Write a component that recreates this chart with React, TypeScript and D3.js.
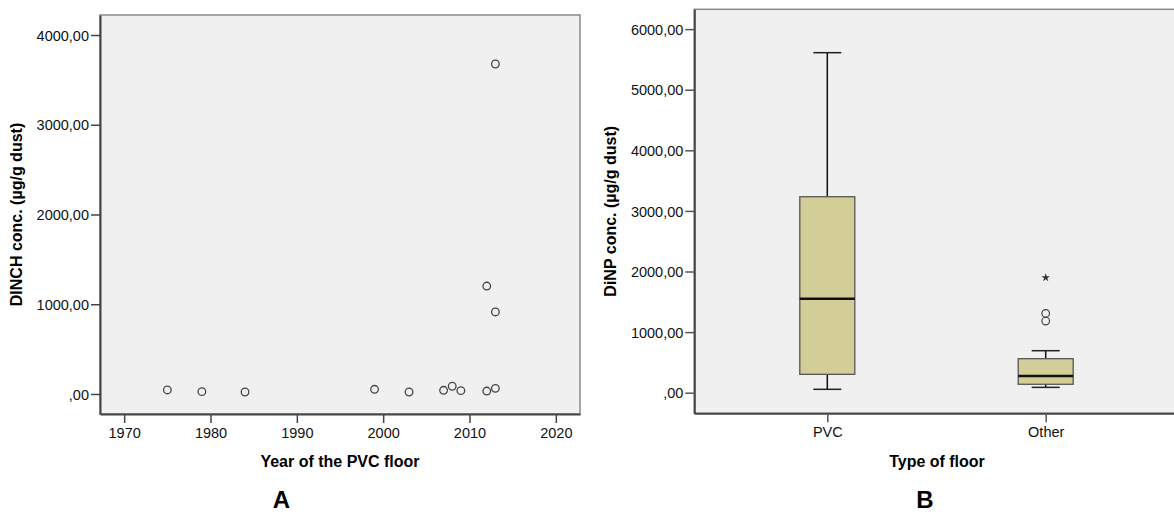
import React, { useEffect, useRef } from "react";
import * as d3 from "d3";

// Panel A data
const floorYears = [1975, 1979, 1984, 1999, 2003, 2007, 2008, 2009, 2012, 2013, 2012, 2013, 2013];
const dinchConc = [45, 26, 22, 52, 22, 41, 86, 37, 33, 63, 1203, 914, 3677];
const yearTicks = [1970, 1980, 1990, 2000, 2010, 2020];
const dinchTicks = [0, 1000, 2000, 3000, 4000];

// Panel B data
const floorTypes = ["PVC", "Other"];
const q1 = [303, 139];
const medians = [1551, 276];
const q3 = [3234, 561];
const whiskerLow = [56, 88];
const whiskerHigh = [5611, 693];
const outliersOther = [1182, 1309];
const extremesOther = [1898];
const dinpTicks = [0, 1000, 2000, 3000, 4000, 5000, 6000];

const FONT = "'Liberation Sans', Arial, sans-serif";
const fmt = (v: number) => {
  const s = d3.format(".2f")(v).replace(".", ",");
  return v === 0 ? s.replace(/^0/, "") : s;
};

export default function App() {
  const ref = useRef<SVGSVGElement>(null);

  useEffect(() => {
    const svg = d3.select(ref.current);
    svg.selectAll("*").remove();

    // ---------- Panel A ----------
    const aL = 100, aR = 580, aT = 15, aB = 414;
    const xA = d3.scaleLinear().domain([1967.2, 2022.8]).range([aL, aR]);
    const yA = d3.scaleLinear().domain([-223, 4223]).range([aB, aT]);

    const gA = svg.append("g");
    gA.append("rect").attr("x", aL).attr("y", aT).attr("width", aR - aL).attr("height", aB - aT)
      .attr("fill", "#f0f0f0").attr("stroke", "#8a8a8a").attr("stroke-width", 1.5);

    const axA = gA.append("g").attr("transform", `translate(${aL},0)`)
      .call(d3.axisLeft(yA).tickValues(dinchTicks).tickFormat((d: any) => fmt(d)).tickSize(9).tickSizeOuter(0));
    const axAx = gA.append("g").attr("transform", `translate(0,${aB})`)
      .call(d3.axisBottom(xA).tickValues(yearTicks).tickFormat(d3.format("d") as any).tickSize(9).tickSizeOuter(0));

    [axA, axAx].forEach((ax) => {
      ax.select(".domain").attr("stroke", "#444").attr("stroke-width", 2);
      ax.selectAll(".tick line").attr("stroke", "#444").attr("stroke-width", 1.5);
      ax.selectAll("text").attr("font-family", FONT).attr("font-size", 14.5).attr("fill", "#111");
    });
    axA.selectAll("text").attr("x", -11).attr("dy", "0.36em");
    axAx.selectAll("text").attr("y", 14);

    gA.append("g").selectAll("circle").data(floorYears).join("circle")
      .attr("cx", (d) => xA(d))
      .attr("cy", (_d, i) => yA(dinchConc[i]))
      .attr("r", 3.8).attr("fill", "none").attr("stroke", "#444").attr("stroke-width", 1.3);

    gA.append("text").attr("x", (aL + aR) / 2).attr("y", 467).attr("text-anchor", "middle")
      .attr("font-family", FONT).attr("font-weight", "bold").attr("font-size", 16).text("Year of the PVC floor");
    gA.append("text").attr("transform", `translate(22,${(aT + aB) / 2}) rotate(-90)`).attr("text-anchor", "middle")
      .attr("font-family", FONT).attr("font-weight", "bold").attr("font-size", 16).text("DINCH conc. (µg/g dust)");
    gA.append("text").attr("x", 281.5).attr("y", 508).attr("text-anchor", "middle")
      .attr("font-family", FONT).attr("font-weight", "bold").attr("font-size", 24).text("A");

    // ---------- Panel B ----------
    const bL = 694.3, bR = 1178.7, bT = 9.3, bB = 413.3;
    const xB = d3.scalePoint().domain(floorTypes).range([bL, bR]).padding(0.609);
    const yB = d3.scaleLinear().domain([-340, 6327]).range([bB, bT]);

    const gB = svg.append("g");
    gB.append("rect").attr("x", bL).attr("y", bT).attr("width", bR - bL).attr("height", bB - bT)
      .attr("fill", "#f0f0f0").attr("stroke", "#8a8a8a").attr("stroke-width", 1.5);

    const axB = gB.append("g").attr("transform", `translate(${bL},0)`)
      .call(d3.axisLeft(yB).tickValues(dinpTicks).tickFormat((d: any) => fmt(d)).tickSize(9).tickSizeOuter(0));
    const axBx = gB.append("g").attr("transform", `translate(0,${bB})`)
      .call(d3.axisBottom(xB).tickSize(9).tickSizeOuter(0));
    [axB, axBx].forEach((ax) => {
      ax.select(".domain").attr("stroke", "#444").attr("stroke-width", 2);
      ax.selectAll(".tick line").attr("stroke", "#555").attr("stroke-width", 1.5);
      ax.selectAll("text").attr("font-family", FONT).attr("font-size", 14.5).attr("fill", "#111");
    });
    axB.selectAll("text").attr("x", -11).attr("dy", "0.36em");
    axBx.selectAll("text").attr("y", 13);

    const boxW = 55, capW = 28;
    floorTypes.forEach((c, i) => {
      const cx = xB(c) as number;
      const g = gB.append("g");
      g.append("line").attr("x1", cx).attr("x2", cx).attr("y1", yB(q3[i])).attr("y2", yB(whiskerHigh[i]))
        .attr("stroke", "#111").attr("stroke-width", 1.5);
      g.append("line").attr("x1", cx).attr("x2", cx).attr("y1", yB(q1[i])).attr("y2", yB(whiskerLow[i]))
        .attr("stroke", "#111").attr("stroke-width", 1.5);
      [whiskerHigh[i], whiskerLow[i]].forEach((w) => {
        g.append("line").attr("x1", cx - capW / 2).attr("x2", cx + capW / 2).attr("y1", yB(w)).attr("y2", yB(w))
          .attr("stroke", "#222").attr("stroke-width", 1.5);
      });
      g.append("rect").attr("x", cx - boxW / 2).attr("width", boxW)
        .attr("y", yB(q3[i])).attr("height", yB(q1[i]) - yB(q3[i]))
        .attr("fill", "#d3ce97").attr("stroke", "#555").attr("stroke-width", 1.3);
      g.append("line").attr("x1", cx - boxW / 2).attr("x2", cx + boxW / 2).attr("y1", yB(medians[i])).attr("y2", yB(medians[i]))
        .attr("stroke", "#111").attr("stroke-width", 2.5);
    });

    const cxO = xB("Other") as number;
    gB.append("g").selectAll("circle").data(outliersOther).join("circle")
      .attr("cx", cxO).attr("cy", (d) => yB(d)).attr("r", 3.8)
      .attr("fill", "none").attr("stroke", "#444").attr("stroke-width", 1.2);
    gB.append("g").selectAll("path").data(extremesOther).join("path")
      .attr("transform", (d) => `translate(${cxO},${yB(d)})`)
      .attr("d", d3.symbol(d3.symbolStar, 22)() as string)
      .attr("fill", "#333");

    gB.append("text").attr("x", 937).attr("y", 467).attr("text-anchor", "middle")
      .attr("font-family", FONT).attr("font-weight", "bold").attr("font-size", 16).text("Type of floor");
    gB.append("text").attr("transform", `translate(616,${(bT + bB) / 2}) rotate(-90)`).attr("text-anchor", "middle")
      .attr("font-family", FONT).attr("font-weight", "bold").attr("font-size", 16).text("DiNP conc. (µg/g dust)");
    gB.append("text").attr("x", 925).attr("y", 508).attr("text-anchor", "middle")
      .attr("font-family", FONT).attr("font-weight", "bold").attr("font-size", 24).text("B");
  }, []);

  return (
    <svg ref={ref} width={1174} height={515}
      style={{ position: "absolute", left: 0, top: 0, background: "#fff" }} />
  );
}
